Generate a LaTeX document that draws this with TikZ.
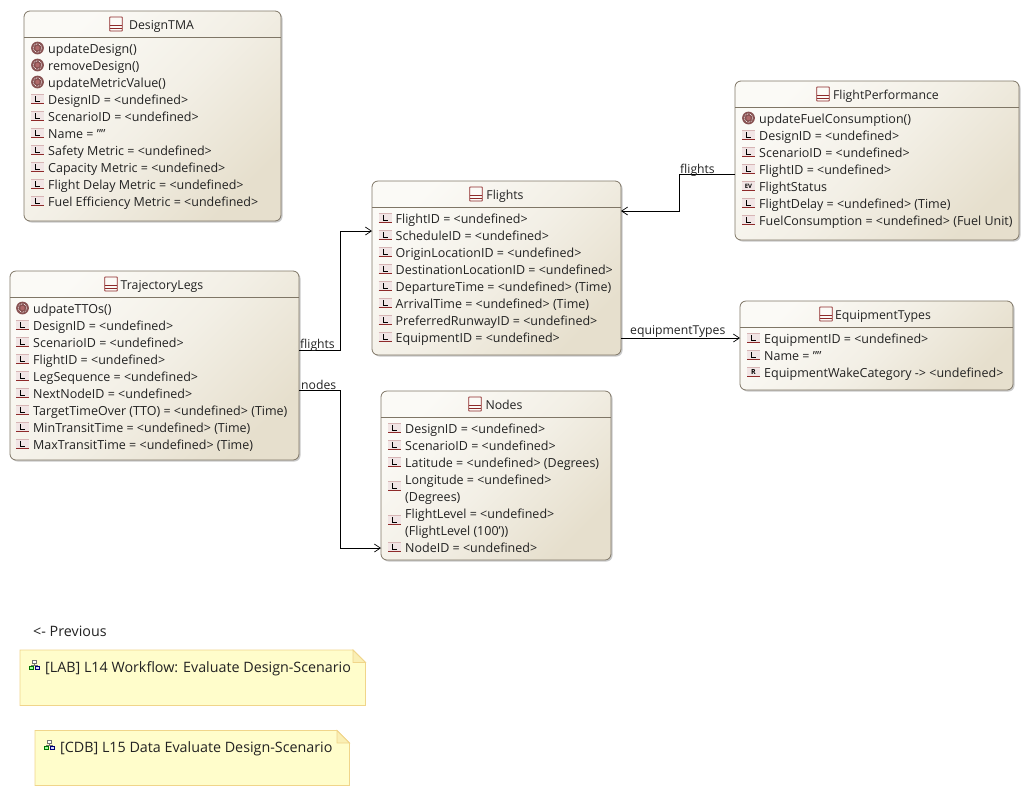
\documentclass[tikz,border=0pt]{standalone}
\usepackage{fontspec}
\setmainfont{Open Sans}
\usetikzlibrary{arrows.meta,shadows}
\definecolor{boxline}{HTML}{7F7666}
\definecolor{boxlight}{HTML}{FBFAF6}
\definecolor{boxdark}{HTML}{E6DFCD}
\definecolor{iconred}{HTML}{8E2A2A}
\definecolor{notefill}{HTML}{FFFDCB}
\definecolor{noteline}{HTML}{F0D58A}
\definecolor{textcol}{HTML}{222222}
\tikzset{
    classbox/.style={draw=boxline,line width=0.8pt,rounded corners=6pt,anchor=north west,inner sep=0pt,outer sep=0pt,
        top color=boxlight,bottom color=boxdark,middle color=boxlight!60!boxdark,shading angle=45,
        drop shadow={shadow xshift=1.5pt,shadow yshift=-1.5pt,fill=black!35,opacity=0.6}},
    rowtext/.style={anchor=base west,inner sep=0pt,text=textcol,font=\fontsize{12.5}{14}\selectfont},
    classtitle/.style={rowtext,anchor=base,font=\fontsize{12.3}{14}\selectfont},
    linklabel/.style={rowtext,font=\fontsize{12.2}{14}\selectfont},
    notetext/.style={rowtext,font=\fontsize{14.3}{16}\selectfont},
    link/.style={draw=black,line width=0.7pt,-{Straight Barb[length=6pt,width=8pt,line width=0.7pt]}},
    notebox/.style={draw=noteline,fill=notefill,line width=0.8pt},
    notefold/.style={draw=noteline,fill=noteline!35!notefill,line width=0.8pt},
    pics/classicon/.style={code={
        \draw[iconred,fill=boxlight,line width=0.8pt,rounded corners=0.5pt] (-6.3,-7) rectangle (6.3,7);
        \draw[iconred,line width=0.8pt] (-6.3,1.5) -- (6.3,1.5) (-6.3,4) -- (6.3,4);
    }},
    pics/opicon/.style={code={
        \fill[iconred!55!gray] (0,0) circle (6.4);
        \draw[white,line width=0.7pt,densely dotted] (0,0) circle (4.4);
        \fill[iconred!70!white] (0,0) circle (2.2);
    }},
    pics/rowbase/.style={code={
        \fill[iconred!12!white] (-6.5,-4.5) rectangle (6.5,4.5);
        \draw[iconred!35!white,line width=1pt] (-6.5,-4.5) -- (6.5,-4.5);
        \draw[iconred,line width=1.1pt] (-6.5,4.5) -- (6.5,4.5);
    }},
    pics/propicon/.style={code={
        \pic {rowbase};
        \draw[black,line width=0.8pt] (-2,-3) -- (-2,2) -- (2.5,2);
    }},
    pics/refproperty/.style={code={
        \pic {rowbase};
        \node[inner sep=0pt,font=\fontsize{7}{7}\selectfont\bfseries] {R};
    }},
    pics/enumicon/.style={code={
        \pic {rowbase};
        \node[inner sep=0pt,font=\fontsize{6}{6}\selectfont\bfseries] {EV};
    }},
    pics/blank/.style={code={}},
    pics/noteicon/.style={code={
        \draw[black!55,fill=white,line width=0.5pt] (-2,-5) rectangle (2,-2);
        \draw[black!55,line width=0.5pt] (0,-2) -- (0,0) (-3,0) -- (3,0) (-3,0) -- (-3,1) (3,0) -- (3,1);
        \draw[green!45!black,fill=green!35!white,line width=0.5pt] (-5,1) rectangle (-1,4);
        \draw[blue!45!black,fill=blue!15!white,line width=0.5pt] (1,1) rectangle (5,4);
    }},
}
% box rows: name, icon x, first row y, kind/text list
\newcommand{\classrows}[4]{
    \foreach \kind/\txt [count=\i] in {#4} {
        \pgfmathsetmacro{\rowy}{#3+17*(\i-1)}
        \pic at (#2,\rowy) {\kind};
        \node[rowtext] (#1-\i) at (#2+10.5,\rowy+5) {\txt};
    }
}
\begin{document}
\begin{tikzpicture}[x=1pt,y=-1pt]
    \useasboundingbox (0,0) rectangle (1031,796);
    % class boxes
    \node[classbox,minimum width=257,minimum height=210] (designtma) at (24,11) {};
    \node[classbox,minimum width=284,minimum height=159] (flightperf) at (735,81) {};
    \node[classbox,minimum width=249,minimum height=174] (flights) at (372,181) {};
    \node[classbox,minimum width=289,minimum height=189] (legs) at (10,271) {};
    \node[classbox,minimum width=273,minimum height=89] (equiptypes) at (740,301) {};
    \node[classbox,minimum width=230,minimum height=169] (nodes) at (381,391) {};
    \draw[boxline,line width=0.7pt] (24,37) -- (281,37) (735,107) -- (1019,107) (372,207) -- (621,207)
        (10,297) -- (299,297) (740,327) -- (1013,327) (381,417) -- (611,417);
    % titles
    \node[classtitle] (designtmatitle) at (161.5,29) {DesignTMA};
    \node[classtitle] (flightperftitle) at (886,99) {FlightPerformance};
    \node[classtitle] (flightstitle) at (505,199) {Flights};
    \node[classtitle] (legstitle) at (162,289) {TrajectoryLegs};
    \node[classtitle] (equiptypestitle) at (883,319) {EquipmentTypes};
    \node[classtitle] (nodestitle) at (504,409) {Nodes};
    \pic at (116,24) {classicon};
    \pic at (823,94) {classicon};
    \pic at (476,194) {classicon};
    \pic at (111,284) {classicon};
    \pic at (826,314) {classicon};
    \pic at (475,404) {classicon};
    % rows
    \classrows{designtma}{37.5}{48}{opicon/updateDesign(),opicon/removeDesign(),opicon/updateMetricValue(),
        propicon/DesignID = <undefined>,propicon/ScenarioID = <undefined>,propicon/Name = "",
        propicon/Safety Metric = <undefined>,propicon/Capacity Metric = <undefined>,
        propicon/Flight Delay Metric = <undefined>,propicon/Fuel Efficiency Metric = <undefined>}
    \classrows{flightperf}{748.5}{118}{opicon/updateFuelConsumption(),propicon/DesignID = <undefined>,
        propicon/ScenarioID = <undefined>,propicon/FlightID = <undefined>,enumicon/FlightStatus,
        propicon/FlightDelay = <undefined> (Time),propicon/FuelConsumption = <undefined> (Fuel Unit)}
    \classrows{flights}{385}{218}{propicon/FlightID = <undefined>,propicon/ScheduleID = <undefined>,
        propicon/OriginLocationID = <undefined>,propicon/DestinationLocationID = <undefined>,
        propicon/DepartureTime = <undefined> (Time),propicon/ArrivalTime = <undefined> (Time),
        propicon/PreferredRunwayID = <undefined>,propicon/EquipmentID = <undefined>}
    \classrows{legs}{22.5}{308}{opicon/udpateTTOs(),propicon/DesignID = <undefined>,propicon/ScenarioID = <undefined>,
        propicon/FlightID = <undefined>,propicon/LegSequence = <undefined>,propicon/NextNodeID = <undefined>,
        propicon/TargetTimeOver (TTO) = <undefined> (Time),propicon/MinTransitTime = <undefined> (Time),
        propicon/MaxTransitTime = <undefined> (Time)}
    \classrows{equiptypes}{753.5}{338}{propicon/EquipmentID = <undefined>,propicon/Name = "",
        refproperty/EquipmentWakeCategory -> <undefined>}
    \classrows{nodes}{394.5}{428}{propicon/DesignID = <undefined>,propicon/ScenarioID = <undefined>,
        propicon/Latitude = <undefined> (Degrees),blank/Longitude = <undefined>,blank/{(Degrees)},
        blank/FlightLevel = <undefined>,blank/{(FlightLevel (100'))},propicon/NodeID = <undefined>}
    \pic at (394.5,486) {propicon};
    \pic at (394.5,520) {propicon};
    % connectors
    \draw[link] ([yshift=15.5pt]legs.east) -| (340,231) -- ([yshift=37pt]flights.west);
    \draw[link] ([yshift=-24.5pt]legs.east) -| (340,548) -- ([yshift=-72.5pt]nodes.west);
    \draw[link] ([yshift=-13.5pt]flightperf.west) -- ++(-56,0) |- ([yshift=57pt]flights.east);
    \draw[link] ([yshift=-70pt]flights.east) -- ([yshift=7.5pt]equiptypes.west);
    \node[linklabel] (flightslabel) at (300,348) {flights};
    \node[linklabel] (nodeslabel) at (301,389) {nodes};
    \node[linklabel] (perflabel) at (680,173) {flights};
    \node[linklabel] (equiplabel) at (630,334) {equipmentTypes};
    % notes
    \node[notetext] (previous) at (33,636) {<- Previous};
    \draw[notebox] (20,650) -- (353,650) -- (365.5,662.5) -- (365.5,705.5) -- (20,705.5) -- cycle;
    \draw[notefold] (353,650) -- (353,662.5) -- (365.5,662.5) -- cycle;
    \draw[notebox] (35,730.5) -- (337,730.5) -- (349.5,743) -- (349.5,785.5) -- (35,785.5) -- cycle;
    \draw[notefold] (337,730.5) -- (337,743) -- (349.5,743) -- cycle;
    \pic at (34,665) {noteicon};
    \pic at (49,745) {noteicon};
    \node[notetext] (labnote) at (45,672) {[LAB] L14 Workflow: Evaluate Design-Scenario};
    \node[notetext] (cdbnote) at (60,752) {[CDB] L15 Data Evaluate Design-Scenario};
\end{tikzpicture}
\end{document}
